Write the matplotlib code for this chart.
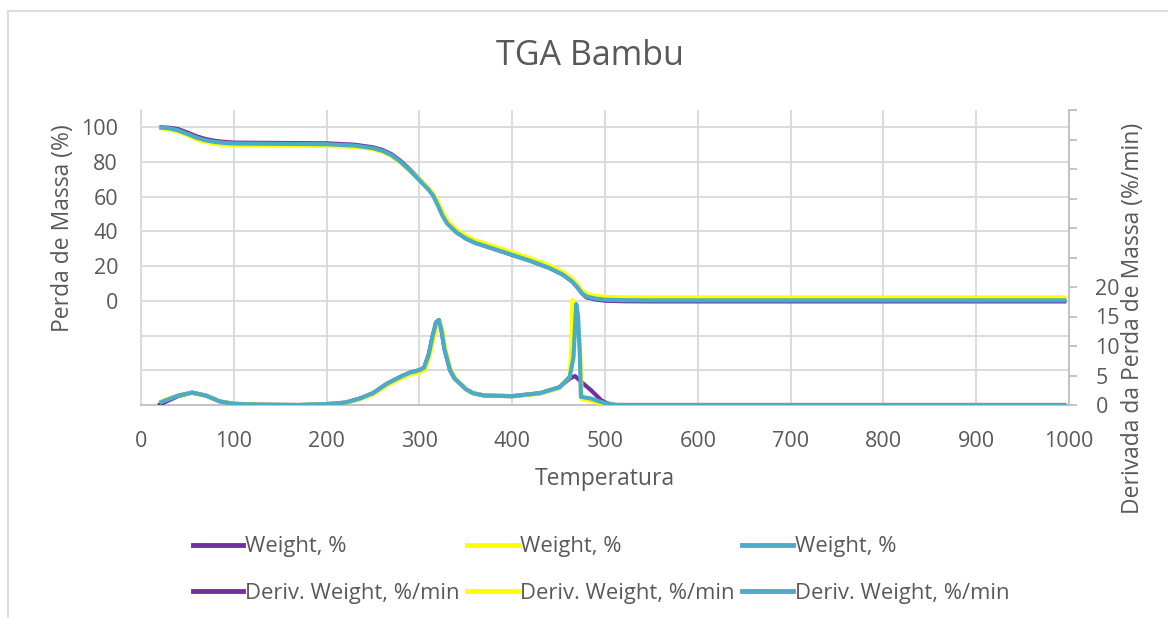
import matplotlib
matplotlib.use('Agg')
import matplotlib.pyplot as plt
from matplotlib.ticker import FuncFormatter, MultipleLocator

plt.rcParams['font.family'] = ['Open Sans', 'DejaVu Sans']

# cores das três amostras
c_roxo = '#7030A0'
c_amarelo = '#FFFF00'
c_azul = '#4BACC6'
c_texto = '#595959'

# ---- dados ----
temp_w = [22, 30, 40, 50, 60, 70, 80, 90, 100, 150, 200, 230, 250, 260, 270, 280,
          290, 300, 310, 315, 320, 325, 330, 340, 350, 360, 380, 400, 420, 440,
          455, 465, 470, 475, 480, 490, 500, 520, 550, 600, 700, 800, 900, 995]

weight_roxo = [100, 99.8, 99, 97, 94.8, 93.2, 92.2, 91.6, 91.2, 91, 90.8, 90, 88.5, 87,
               84.5, 80.5, 75.5, 70, 64.5, 61, 55.5, 49.5, 45, 39.5, 36, 33.5, 30, 26.5,
               23, 19, 15, 11, 8, 4.5, 2, 0.8, 0.1, -0.2, -0.3, -0.3, -0.3, -0.3, -0.3, -0.3]
weight_amarelo = [99.5, 99, 97.5, 95.5, 93, 91.5, 90.5, 90, 89.7, 89.5, 89.3, 88.8, 87.5,
                  86, 83.5, 79.5, 75, 70, 65, 61.5, 57, 51, 46.5, 41, 37.5, 35, 31.5, 28,
                  24.5, 20.5, 16.5, 12.5, 9.5, 6, 4, 2.8, 2.3, 2.1, 2, 2, 2, 2, 2, 2]
weight_azul = [99.8, 99.5, 98.3, 96.2, 94, 92.5, 91.6, 91, 90.7, 90.5, 90.3, 89.5, 88,
               86.5, 84, 80, 75, 69.5, 64, 60.5, 55, 49, 44.5, 39.5, 36, 33.5, 30, 26.5,
               23, 19, 15, 11, 8, 4.5, 2.5, 1.3, 0.7, 0.4, 0.3, 0.3, 0.3, 0.3, 0.3, 0.3]

temp_d_roxo = [20.5, 30, 40, 55, 70, 85, 100, 130, 170, 200, 220, 236, 250, 265, 280,
               290, 300, 305, 310, 314, 318, 321, 324, 327, 333, 338, 344, 350, 358, 370,
               400, 430, 451, 462, 467.7, 476, 485, 496, 502, 510, 600, 800, 995]
deriv_roxo = [0.1, 0.8, 1.5, 2.1, 1.6, 0.6, 0.2, 0.05, 0.0, 0.15, 0.4, 1.1, 2.0, 3.6,
              4.8, 5.5, 5.9, 6.3, 8.5, 11.5, 14.0, 14.4, 12.5, 9.5, 5.9, 4.5, 3.6, 2.7,
              2.0, 1.6, 1.5, 2.0, 3.0, 4.5, 4.9, 3.7, 2.5, 0.8, 0.3, 0, 0, 0, 0]

temp_d_amarelo = [22, 30, 40, 55, 70, 85, 100, 130, 170, 200, 220, 236, 250, 265, 280,
                  290, 300, 306, 311, 315, 319, 322, 325, 328, 334, 339, 345, 351, 359,
                  370, 400, 430, 451, 462, 463.5, 465, 467, 470, 473, 475, 485, 495,
                  505, 515, 600, 800, 995]
deriv_amarelo = [0.6, 1.1, 1.6, 2.1, 1.6, 0.6, 0.2, 0.05, 0.0, 0.15, 0.35, 1.0, 1.8,
                 3.3, 4.5, 5.2, 5.5, 6.0, 8.3, 11.0, 13.6, 14.0, 12.3, 9.3, 5.8, 4.4,
                 3.5, 2.6, 2.0, 1.6, 1.5, 1.9, 2.9, 4.8, 9.0, 17.8, 17.0, 14.0, 10.0,
                 1.0, 0.7, 0.3, 0.05, 0, 0, 0, 0]

temp_d_azul = [22, 30, 40, 55, 70, 85, 100, 130, 170, 200, 220, 236, 250, 265, 280,
               290, 300, 305, 310, 314, 318, 321, 324, 327, 333, 338, 344, 350, 358, 370,
               400, 430, 451, 462, 466, 469, 471, 473, 474, 485, 494, 505, 515, 600,
               800, 995]
deriv_azul = [0.5, 1.0, 1.6, 2.1, 1.6, 0.6, 0.2, 0.05, 0.0, 0.15, 0.4, 1.1, 2.0, 3.6,
              4.8, 5.5, 5.9, 6.3, 8.5, 11.5, 14.0, 14.4, 12.5, 9.5, 5.9, 4.5, 3.6, 2.7,
              2.0, 1.6, 1.5, 2.0, 3.0, 4.8, 8.0, 17.1, 15.0, 8.0, 1.4, 1.1, 0.6, 0.1, 0,
              0, 0, 0]

fig = plt.figure(figsize=(11.68, 6.18), dpi=100)
ax = fig.add_axes([141 / 1168, 1 - 405 / 618, 928 / 1168, 295 / 618])
ax2 = ax.twinx()

lw = 3.0
l1, = ax.plot(temp_w, weight_roxo, color=c_roxo, lw=lw, label='Weight, %', zorder=3)
l2, = ax.plot(temp_w, weight_amarelo, color=c_amarelo, lw=lw, label='Weight, %', zorder=4)
l3, = ax.plot(temp_w, weight_azul, color=c_azul, lw=lw, label='Weight, %', zorder=5)
d1, = ax2.plot(temp_d_roxo, deriv_roxo, color=c_roxo, lw=lw, label='Deriv. Weight, %/min')
d2, = ax2.plot(temp_d_amarelo, deriv_amarelo, color=c_amarelo, lw=lw, label='Deriv. Weight, %/min')
d3, = ax2.plot(temp_d_azul, deriv_azul, color=c_azul, lw=lw, label='Deriv. Weight, %/min')

ax.set_xlim(0, 1000)
ax.set_ylim(-60, 110)
ax2.set_ylim(0, 50)

ax.xaxis.set_major_locator(MultipleLocator(100))
ax.yaxis.set_major_locator(MultipleLocator(20))
ax2.yaxis.set_major_locator(MultipleLocator(5))
ax.yaxis.set_major_formatter(FuncFormatter(lambda v, p: f'{v:.0f}' if 0 <= v <= 100 else ''))
ax2.yaxis.set_major_formatter(FuncFormatter(lambda v, p: f'{v:.0f}' if v <= 20 else ''))

ax.grid(True, color='#d9d9d9', lw=1.3)
ax.set_axisbelow(True)
for s in ['top', 'right']:
    ax.spines[s].set_visible(False)
for s in ['top', 'left', 'bottom']:
    ax2.spines[s].set_visible(False)
ax.spines['left'].set_color('#d9d9d9')
ax.spines['bottom'].set_color('#bfbfbf')
ax2.spines['right'].set_color('#bfbfbf')
for sp in ax.spines.values():
    sp.set_linewidth(1.3)
ax2.spines['right'].set_linewidth(1.3)

ax.tick_params(axis='y', length=0, labelsize=15.5, labelcolor=c_texto, pad=16.5)
ax.tick_params(axis='x', length=0, labelsize=15.5, labelcolor=c_texto, pad=19)
ax2.tick_params(axis='y', length=6, width=1.3, color='#bfbfbf', labelsize=15.5,
                labelcolor=c_texto, pad=13)

ax.set_xlabel('Temperatura', fontsize=16.5, color=c_texto)
ax.xaxis.set_label_coords(0.5, -0.21)
ax.set_ylabel('Perda de Massa (%)', fontsize=16.5, color=c_texto)
ax.yaxis.set_label_coords(-0.071, 0.60)
ax2.set_ylabel('Derivada da Perda de Massa (%/min)', fontsize=16.5, color=c_texto)
ax2.yaxis.set_label_coords(1.056, 0.293)

fig.text(0.505, 1 - 56 / 618, 'TGA Bambu', fontsize=24.5, color=c_texto,
         ha='center', va='center')

fig.legend([l1, d1, l2, d2, l3, d3],
           ['Weight, %', 'Deriv. Weight, %/min'] * 3,
           ncol=3, loc='center', bbox_to_anchor=(0.5145, 1 - 570 / 618),
           frameon=False, fontsize=15.8, labelcolor=c_texto,
           handlelength=2.3, handletextpad=0.1, columnspacing=0.35,
           labelspacing=1.15, borderaxespad=0)
for h in fig.legends[0].legend_handles:
    h.set_linewidth(3.5)

# moldura do gráfico (só esquerda e topo visíveis)
fig.add_artist(plt.Line2D([8 / 1168, 8 / 1168], [0, 1 - 11 / 618], color='#d9d9d9', lw=1.3))
fig.add_artist(plt.Line2D([8 / 1168, 1], [1 - 11 / 618, 1 - 11 / 618], color='#d9d9d9', lw=1.3))

fig.savefig('out.png', dpi=100)
